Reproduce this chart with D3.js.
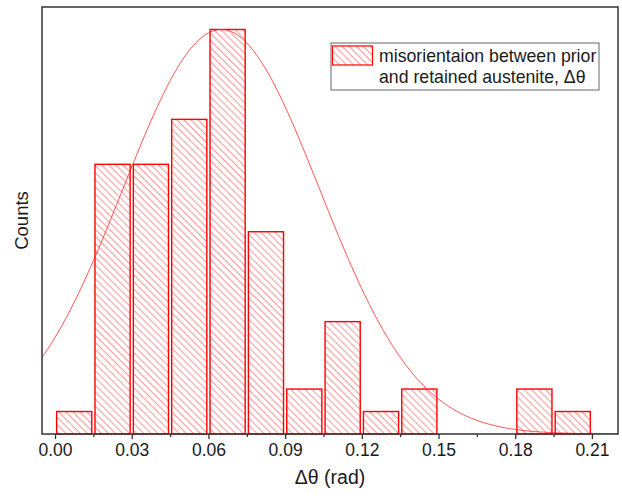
<!DOCTYPE html>
<html>
<head>
<meta charset="utf-8">
<script src="https://cdn.jsdelivr.net/npm/d3@7"></script>
<style>
  body { margin: 0; background: #fff; }
  text { font-family: "Liberation Sans", Arial, sans-serif; fill: #1a1a1a; }
</style>
</head>
<body>
<div id="chart"></div>
<script>
// histogram bins (rad) and counts
var binStart = [0.000, 0.015, 0.030, 0.045, 0.060, 0.075, 0.090, 0.105, 0.120, 0.135, 0.150, 0.165, 0.180, 0.195];
var binWidth = 0.015;
var counts = [1, 12, 12, 14, 18, 9, 2, 5, 1, 2, 0, 0, 2, 1];

var xTicks = [0.00, 0.03, 0.06, 0.09, 0.12, 0.15, 0.18, 0.21];
var xMinorTicks = [0.015, 0.045, 0.075, 0.105, 0.135, 0.165, 0.195];

// normal fit params
var fitMean = 0.065;
var fitSigma = 0.0384;
var fitAmp = 18;

var svgWidth = 622;
var svgHeight = 498;

var margin = { top: 7, right: 4, bottom: 64, left: 42 };

var width = svgWidth - margin.left - margin.right;
var height = svgHeight - margin.top - margin.bottom;

var svg = d3.select("#chart")
    .append("svg")
    .attr("width", svgWidth)
    .attr("height", svgHeight);

var defs = svg.append("defs");

// "\\\" hatch like the original
var pattern = defs.append("pattern")
    .attr("id", "hatch")
    .attr("patternUnits", "userSpaceOnUse")
    .attr("width", 5)
    .attr("height", 5)
    .attr("patternTransform", "rotate(-45)");
pattern.append("line")
    .attr("x1", 0).attr("y1", 0)
    .attr("x2", 0).attr("y2", 5)
    .attr("stroke", "#ff1a1a")
    .attr("stroke-width", 0.9);

defs.append("clipPath")
    .attr("id", "plotClip")
    .append("rect")
    .attr("width", width)
    .attr("height", height);

var chartGroup = svg.append("g")
    .attr("transform", `translate(${margin.left}, ${margin.top})`);

var x = d3.scaleLinear()
    .domain([-0.0051, 0.2202])
    .range([0, width]);

var y = d3.scaleLinear()
    .domain([0, 19])
    .range([height, 0]);

// bars
var bars = binStart.map((s, i) => ({ x0: s, x1: s + binWidth, c: counts[i] }))
    .filter(d => d.c > 0);

chartGroup.selectAll("rect.bar")
    .data(bars)
    .enter()
    .append("rect")
    .attr("class", "bar")
    .attr("x", d => x(d.x0) + 1.6)
    .attr("y", d => y(d.c))
    .attr("width", d => x(d.x1) - x(d.x0) - 3.2)
    .attr("height", d => y(0) - y(d.c))
    .attr("fill", "url(#hatch)")
    .attr("stroke", "#ff0000")
    .attr("stroke-width", 1.4);

// gaussian curve
var curveX = d3.range(-0.006, 0.222, 0.001);
var line = d3.line()
    .x(d => x(d))
    .y(d => y(fitAmp * Math.exp(-Math.pow(d - fitMean, 2) / (2 * fitSigma * fitSigma))))
    .curve(d3.curveBasis);

chartGroup.append("path")
    .datum(curveX)
    .attr("clip-path", "url(#plotClip)")
    .attr("d", line)
    .attr("fill", "none")
    .attr("stroke", "#ff2a2a")
    .attr("stroke-width", 0.8);

// frame
chartGroup.append("rect")
    .attr("width", width)
    .attr("height", height)
    .attr("fill", "none")
    .attr("stroke", "#333")
    .attr("stroke-width", 1.5);

// x axis
var bottomAxis = d3.axisBottom(x)
    .tickValues(xTicks)
    .tickFormat(d3.format(".2f"))
    .tickSize(5)
    .tickPadding(5);

var xAxis = chartGroup.append("g")
    .attr("transform", `translate(0, ${height})`)
    .call(bottomAxis);
xAxis.select(".domain").remove();
xAxis.selectAll("line").attr("stroke", "#333").attr("stroke-width", 1.3);
xAxis.selectAll("text")
    .attr("font-size", "17.5px")
    .attr("font-family", "Liberation Sans, Arial, sans-serif")
    .attr("fill", "#1a1a1a");

var minorAxis = d3.axisBottom(x)
    .tickValues(xMinorTicks)
    .tickSize(3)
    .tickFormat("");
var xMinor = chartGroup.append("g")
    .attr("transform", `translate(0, ${height})`)
    .call(minorAxis);
xMinor.select(".domain").remove();
xMinor.selectAll("line").attr("stroke", "#333").attr("stroke-width", 1.3);

// axis titles
chartGroup.append("text")
    .attr("x", width / 2)
    .attr("y", height + 50)
    .attr("text-anchor", "middle")
    .attr("font-size", "19.5px")
    .text("Δθ (rad)");

svg.append("text")
    .attr("transform", `translate(28, ${margin.top + height / 2}) rotate(-90)`)
    .attr("text-anchor", "middle")
    .attr("font-size", "18.5px")
    .text("Counts");

// legend
var legend = svg.append("g")
    .attr("transform", "translate(331, 43)");

legend.append("rect")
    .attr("width", 268)
    .attr("height", 47)
    .attr("fill", "#fff")
    .attr("stroke", "#666")
    .attr("stroke-width", 1);

legend.append("rect")
    .attr("x", 1.5)
    .attr("y", 3)
    .attr("width", 40)
    .attr("height", 19)
    .attr("fill", "url(#hatch)")
    .attr("stroke", "#ff0000")
    .attr("stroke-width", 1.2);

legend.append("text")
    .attr("x", 48)
    .attr("y", 19)
    .attr("font-size", "17.7px")
    .text("misorientaion between prior");

legend.append("text")
    .attr("x", 48)
    .attr("y", 40)
    .attr("font-size", "17.7px")
    .text("and retained austenite, Δθ");
</script>
</body>
</html>
